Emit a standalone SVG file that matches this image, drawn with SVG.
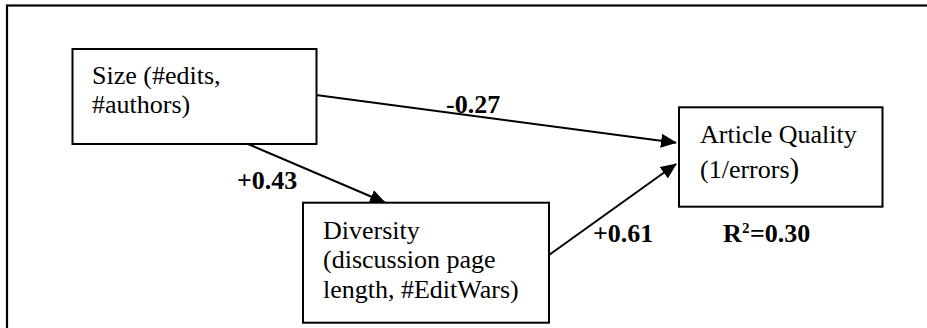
<svg xmlns="http://www.w3.org/2000/svg" width="927" height="328" viewBox="0 0 927 328">
<defs>
<style>
.frame{fill:none;stroke:#000;stroke-width:2.2}
.box{fill:#fff;stroke:#000;stroke-width:2}
.t{font-family:"Liberation Serif","Times New Roman",serif;font-size:26px;fill:#000}
.b{font-family:"Liberation Serif","Times New Roman",serif;font-size:26px;font-weight:bold;fill:#000}
.edge{stroke:#000;stroke-width:2;fill:none;marker-end:url(#ah)}
</style>
<marker id="ah" viewBox="0 0 16 14" refX="15" refY="7" markerUnits="userSpaceOnUse" markerWidth="16" markerHeight="14" orient="auto">
<path d="M0,0 L16,7 L0,14 Z" fill="#000"/>
</marker>
</defs>
<rect width="927" height="328" fill="#fff"/>
<rect class="frame" x="7" y="5.5" width="940" height="340"/>
<g id="connectors">
<line class="edge" x1="316" y1="95" x2="676" y2="142.7"/>
<line class="edge" x1="248" y1="144" x2="385" y2="202.5"/>
<line class="edge" x1="549" y1="255" x2="676" y2="164"/>
</g>
<g id="size">
<rect class="box" x="72.5" y="49" width="244" height="95"/>
<text class="t" x="92" y="83.5">Size (#edits,</text>
<text class="t" x="92" y="112.5">#authors)</text>
</g>
<g id="diversity">
<rect class="box" x="303" y="202.7" width="246" height="120"/>
<text class="t" x="323" y="239">Diversity</text>
<text class="t" x="323" y="268">(discussion page</text>
<text class="t" x="323" y="298">length, #EditWars)</text>
</g>
<g id="quality">
<rect class="box" x="679" y="107.3" width="203.5" height="99.4"/>
<text class="t" x="700" y="143">Article Quality</text>
<text class="t" x="700" y="178">(1/errors<tspan font-size="29">)</tspan></text>
</g>
<g id="labels">
<text class="b" x="446" y="113">-0.27</text>
<text class="b" x="237" y="189">+0.43</text>
<text class="b" x="593" y="242">+0.61</text>
<text class="b" x="723" y="242">R<tspan x="742" y="233" font-size="15">2</tspan><tspan x="750" y="242">=0.30</tspan></text>
</g>
</svg>
